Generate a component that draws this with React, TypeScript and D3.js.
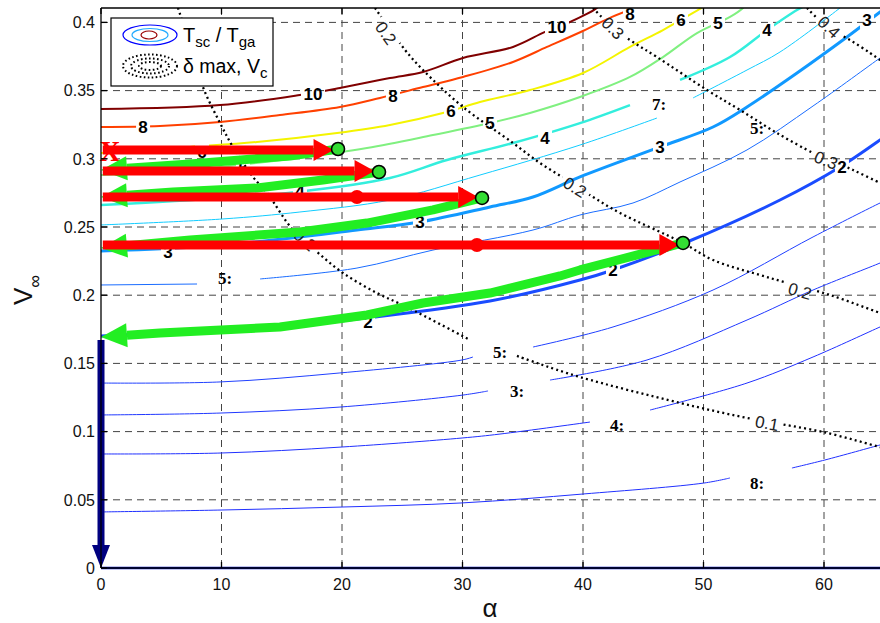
import React from 'react';
import * as d3 from 'd3';

type P = [number, number];

const xTickValues = [0, 10, 20, 30, 40, 50, 60];
const yTickValues = [0, 0.05, 0.1, 0.15, 0.2, 0.25, 0.3, 0.35, 0.4];
const yTickLabels = ['0', '0.05', '0.1', '0.15', '0.2', '0.25', '0.3', '0.35', '0.4'];

// T_sc / T_ga contour lines (alpha, V)
const c10: P[][] = [[[0, 0.3365], [9.88, 0.3394], [16.51, 0.3468], [19.83, 0.3519], [23.98, 0.3592], [26.72, 0.3636], [30.04, 0.3739], [34.19, 0.382], [36.85, 0.393], [38.92, 0.4003], [41.16, 0.4106], [41.6, 0.415]]];
const c8: P[][] = [[[0, 0.3233], [4.9, 0.324], [9.88, 0.327], [14.85, 0.3321], [19.83, 0.338], [23.15, 0.3446], [26.72, 0.3526], [30.04, 0.36], [34.19, 0.371], [37.01, 0.382], [39.99, 0.3937], [42.41, 0.404], [44.73, 0.412]]];
const c6: P[][] = [[[0, 0.3043], [7.39, 0.3087], [12.95, 0.3123], [19.59, 0.3189], [23.98, 0.3248], [28.71, 0.3343], [31.45, 0.3416], [35.6, 0.3504], [40.0, 0.3629], [43.9, 0.382], [46.64, 0.3944], [49.13, 0.4069], [49.96, 0.4113]]];
const c5: P[][] = [[[0, 0.2881], [7.39, 0.2918], [15.68, 0.2999], [22.07, 0.3079], [27.55, 0.3174], [32.28, 0.3262], [35.6, 0.3336], [39.75, 0.3453], [43.9, 0.36], [46.64, 0.3746], [49.46, 0.3922], [52.2, 0.404], [53.28, 0.4106], [53.6, 0.414]]];
const c4: P[][] = [
  [[0, 0.2661], [10.12, 0.2713], [16.27, 0.2757], [23.98, 0.2859], [28.71, 0.2991], [34.19, 0.3116], [39.75, 0.3262], [43.9, 0.3394]],
  [[48.05, 0.3578], [52.2, 0.3746], [55.27, 0.3944], [57.76, 0.4091], [58.59, 0.4128]],
];
const c35: P[][] = [
  [[0, 0.2515], [10.12, 0.2559], [16.51, 0.261], [23.98, 0.2698], [31.45, 0.2881], [39.75, 0.3101], [46.14, 0.3299]],
  [[49.13, 0.3446], [53.61, 0.3651], [56.35, 0.3783], [61.33, 0.4106], [61.8, 0.414]],
];
const c3: P[][] = [[[0, 0.2324], [10.12, 0.2368], [21.24, 0.2478], [26.47, 0.2537], [32.28, 0.2647], [35.85, 0.272], [39.75, 0.2867], [46.39, 0.3087], [50.79, 0.3233], [53.61, 0.338], [57.76, 0.3629], [61.91, 0.3893], [64.65, 0.4076], [65, 0.41]]];
const c25: P[][] = [
  [[0, 0.2075], [7.97, 0.2082]],
  [[13.2, 0.2119], [21.24, 0.2199], [27.55, 0.2331], [35.85, 0.2478], [39.75, 0.2588], [44.15, 0.2676], [48.05, 0.283], [53.61, 0.3065], [59.09, 0.3387], [64.65, 0.3739], [65, 0.376]],
];
const c2: P[][] = [[[0, 0.1701], [14.85, 0.1767], [22.07, 0.1833], [32.28, 0.1957], [39.75, 0.2111], [42.49, 0.2185], [48.63, 0.239], [56.35, 0.2698], [61.33, 0.294], [64.65, 0.3138], [65, 0.316]]];
const cA: P[][] = [
  [[0, 0.1356], [9.88, 0.1364], [19.83, 0.143], [29.96, 0.1525], [30.87, 0.1547]],
  [[35.85, 0.162], [42.49, 0.1767], [50.79, 0.2038], [59.09, 0.2427], [64.65, 0.2676], [65, 0.269]],
];
const cB: P[][] = [
  [[0, 0.1122], [9.88, 0.1136], [19.83, 0.118], [30.04, 0.1268], [32.12, 0.1298]],
  [[37.26, 0.1378], [45.31, 0.1525], [53.61, 0.1818], [59.09, 0.2038], [64.65, 0.2236], [65, 0.225]],
];
const cC: P[][] = [
  [[0, 0.0836], [9.96, 0.0843], [20.0, 0.0887], [29.96, 0.0953], [33.11, 0.0982], [40.58, 0.107]],
  [[45.56, 0.1158], [53.61, 0.1356], [59.09, 0.1547], [64.65, 0.1767], [65, 0.178]],
];
const cD: P[][] = [
  [[0, 0.0411], [9.96, 0.0425], [20.0, 0.0447], [29.96, 0.0477], [40.08, 0.0543], [50.04, 0.0623], [52.2, 0.066]],
  [[57.34, 0.0733], [60.08, 0.0792], [64.65, 0.0902], [65, 0.091]],
];
const c0: P[][] = [[[0, 0], [65, 0]]];

const contourKeys = ['c0', 'cD', 'cC', 'cB', 'cA', 'c2', 'c25', 'c3', 'c35', 'c4', 'c5', 'c6', 'c8', 'c10'];
const contourData: Record<string, P[][]> = { c0, cD, cC, cB, cA, c2, c25, c3, c35, c4, c5, c6, c8, c10 };
const contourStyle: Record<string, { color: string; w: number }> = {
  c10: { color: '#800000', w: 2 },
  c8: { color: '#ff4000', w: 2 },
  c6: { color: '#f4f400', w: 2 },
  c5: { color: '#80f080', w: 2 },
  c4: { color: '#33eedd', w: 2.5 },
  c35: { color: '#11ccff', w: 1 },
  c3: { color: '#1199ff', w: 3 },
  c25: { color: '#1a6cff', w: 1 },
  c2: { color: '#1a4cff', w: 3 },
  cA: { color: '#2040ff', w: 1 },
  cB: { color: '#2038ff', w: 1 },
  cC: { color: '#2030ff', w: 1 },
  cD: { color: '#2030ff', w: 1 },
  c0: { color: '#0010c8', w: 2.5 },
};

// inline contour labels
const labelText = ['10', '10', '8', '8', '8', '6', '6', '6', '5', '5', '5', '4', '4', '4', '3', '3', '3', '3', '2', '2', '2'];
const labelA = [17.59, 37.84, 3.49, 24.23, 43.9, 8.38, 29.05, 48.13, 11.78, 32.28, 51.2, 16.51, 36.85, 55.27, 5.56, 26.47, 46.39, 63.57, 22.16, 42.49, 61.49];
const labelV = [0.3475, 0.3966, 0.3233, 0.346, 0.4062, 0.305, 0.335, 0.4018, 0.2933, 0.3262, 0.3996, 0.2764, 0.3152, 0.3944, 0.2317, 0.2537, 0.3087, 0.4018, 0.1804, 0.2185, 0.294];

// stray serif labels
const serifText = ['5:', '5:', '3:', '4:', '8:', '7:', '5:'];
const serifA = [10.29, 33.11, 34.52, 42.82, 54.44, 46.31, 54.44];
const serifV = [0.2126, 0.1584, 0.1298, 0.1048, 0.0623, 0.3402, 0.3226];

// delta max, Vc dotted contours
const d1: P[][] = [
  [[6.39, 0.4106], [7.39, 0.3834], [8.46, 0.3526], [9.88, 0.3262], [10.95, 0.3087], [12.61, 0.2867], [13.78, 0.2749], [15.93, 0.2478], [17.93, 0.2317], [20.08, 0.2163], [22.9, 0.2016], [25.39, 0.1913], [30.62, 0.1672]],
  [[34.52, 0.1555], [36.18, 0.1503], [39.75, 0.14], [48.05, 0.121], [53.61, 0.11], [59.92, 0.0997], [64.65, 0.0887], [65, 0.088]],
];
const d2: P[][] = [[[22.74, 0.4106], [25.23, 0.3798], [26.72, 0.3651], [30.04, 0.338], [34.19, 0.3116], [36.43, 0.2969], [38.67, 0.2845], [40.83, 0.272], [43.07, 0.2603], [48.3, 0.2383], [50.79, 0.2258], [55.27, 0.2133], [60.5, 0.2001], [64.65, 0.187], [65, 0.186]]];
const d3c: P[][] = [[[40.83, 0.4106], [42.49, 0.3959], [44.15, 0.3856], [46.14, 0.3746], [50.29, 0.3504], [53.03, 0.3358], [56.1, 0.3189], [59.09, 0.3043], [59.92, 0.3013], [62.41, 0.2918], [64.65, 0.2823], [65, 0.281]]];
const d4: P[][] = [[[58.59, 0.4106], [60.25, 0.3966], [62.16, 0.3871], [63.82, 0.3776], [64.65, 0.3724], [65, 0.37]]];
const dottedCurves = [d1, d2, d3c, d4];

const dotLabelText = ['0.2', '0.3', '0.4', '0.2', '0.3', '0.2', '0.1', '0.2'];
const dotLabelA = [23.65, 42.49, 60.41, 39.34, 60.17, 58.01, 55.27, 16.93];
const dotLabelV = [0.3922, 0.3959, 0.3966, 0.2793, 0.2991, 0.2031, 0.1063, 0.2405];
const dotLabelCurve = [1, 2, 3, 1, 2, 1, 0, 0];

// red arrows (rightwards)
const redV = [0.3065, 0.2911, 0.272, 0.2368];
const redTipA = [19.3, 22.7, 31.3, 48.0];
const redDotA = [NaN, NaN, 21.24, 31.2];

// green arrows (leftwards, along contours)
const g1: P[] = [[19.67, 0.3072], [15.68, 0.3021], [7.39, 0.2962], [0, 0.2918]];
const g2: P[] = [[23.07, 0.2903], [18.42, 0.2845], [12.95, 0.2786], [5.98, 0.2757], [0, 0.272]];
const g3: P[] = [[31.62, 0.2713], [27.55, 0.2625], [22.07, 0.2529], [16.51, 0.2463], [7.39, 0.2405], [0, 0.2346]];
const g4: P[] = [[48.3, 0.2383], [39.75, 0.2185], [38.09, 0.2141], [32.28, 0.2016], [26.72, 0.1943], [22.07, 0.1855], [14.85, 0.1767], [4.9, 0.1723], [0, 0.1694]];
const greenPaths = [g1, g2, g3, g4];

// navy vertical arrow
const navyFromV = 0.1672;
const navyToV = 0;

const SANS = "'Liberation Sans', Arial, Helvetica, sans-serif";
const SERIF = "'Liberation Serif', 'Times New Roman', serif";

export default function App() {
  const x = d3.scaleLinear().domain([0, 65]).range([101, 884.25]);
  const y = d3.scaleLinear().domain([0, 0.41]).range([568, 8.76]);
  const L = 101, R = 880, T = 8, B = 568;

  const line = d3.line<P>().x((d) => x(d[0])).y((d) => y(d[1])).curve(d3.curveCatmullRom.alpha(0.5));
  const straight = d3.line<P>().x((d) => d[0]).y((d) => d[1]);

  const angleAt = (curve: P[][], a: number) => {
    for (const seg of curve) {
      for (let i = 0; i < seg.length - 1; i++) {
        const p = seg[i], q = seg[i + 1];
        if (a >= Math.min(p[0], q[0]) - 0.8 && a <= Math.max(p[0], q[0]) + 0.8) {
          const dx = x(q[0]) - x(p[0]);
          const dy = y(q[1]) - y(p[1]);
          return (Math.atan2(dy, dx) * 180) / Math.PI;
        }
      }
    }
    return 0;
  };

  const arrowParts = (ptsData: P[], headLen: number, half: number) => {
    const pts: P[] = ptsData.map((d) => [x(d[0]), y(d[1])]);
    const tip = pts[pts.length - 1];
    const prev = pts[pts.length - 2];
    let dx = tip[0] - prev[0], dy = tip[1] - prev[1];
    const n = Math.hypot(dx, dy) || 1;
    dx /= n; dy /= n;
    const base: P = [tip[0] - dx * headLen, tip[1] - dy * headLen];
    const body = pts.slice(0, pts.length - 1).concat([base]);
    const px = -dy, py = dx;
    const head = `M${tip[0]},${tip[1]}L${base[0] + px * half},${base[1] + py * half}L${base[0] - px * half},${base[1] - py * half}Z`;
    return { body: straight(body) as string, head };
  };

  return (
    <svg width={880} height={623} style={{ position: 'absolute', left: 0, top: 0, background: '#fff' }} fontFamily={SANS}>
      <defs>
        <clipPath id="plotClip">
          <rect x={L} y={T} width={R - L} height={B - T + 2} />
        </clipPath>
        <mask id="lblMask" maskUnits="userSpaceOnUse" x={0} y={0} width={880} height={623}>
          <rect x={0} y={0} width={880} height={623} fill="#fff" />
          {labelText.map((t, i) => (
            <rect key={i} x={x(labelA[i]) - (t.length * 10 + 4) / 2} y={y(labelV[i]) - 9} width={t.length * 10 + 4} height={18} fill="#000" />
          ))}
        </mask>
        <mask id="dotMask" maskUnits="userSpaceOnUse" x={0} y={0} width={880} height={623}>
          <rect x={0} y={0} width={880} height={623} fill="#fff" />
          {dotLabelText.map((t, i) => {
            const ang = angleAt(dottedCurves[dotLabelCurve[i]], dotLabelA[i]);
            return (
              <rect key={i} x={-16} y={-7} width={32} height={14} fill="#000"
                transform={`translate(${x(dotLabelA[i])},${y(dotLabelV[i])}) rotate(${ang})`} />
            );
          })}
        </mask>
      </defs>

      {/* grid */}
      <g stroke="#444" strokeWidth={1} strokeDasharray="7 5">
        {xTickValues.filter((v) => v > 0).map((v) => (
          <line key={'gx' + v} x1={x(v)} x2={x(v)} y1={T} y2={B} />
        ))}
        {yTickValues.filter((v) => v > 0).map((v) => (
          <line key={'gy' + v} x1={L} x2={R} y1={y(v)} y2={y(v)} />
        ))}
      </g>

      <g clipPath="url(#plotClip)">
        {/* contour lines */}
        <g mask="url(#lblMask)" fill="none" strokeLinejoin="round">
          {contourKeys.map((k) =>
            contourData[k].map((seg, j) => (
              <path key={k + j} d={line(seg) as string} stroke={contourStyle[k].color} strokeWidth={contourStyle[k].w} />
            ))
          )}
        </g>
        {/* dotted lines */}
        <g mask="url(#dotMask)" fill="none" stroke="#000" strokeWidth={2.3} strokeDasharray="2 3.2">
          {dottedCurves.map((c, i) =>
            c.map((seg, j) => <path key={'d' + i + '-' + j} d={line(seg) as string} />)
          )}
        </g>
      </g>

      {/* contour labels */}
      <g fontWeight="bold" fontSize={17} textAnchor="middle" fill="#000">
        {labelText.map((t, i) => (
          <text key={i} x={x(labelA[i])} y={y(labelV[i])} dy="0.36em">{t}</text>
        ))}
      </g>
      <g fontFamily={SERIF} fontWeight="bold" fontSize={17} textAnchor="middle" fill="#000">
        {serifText.map((t, i) => (
          <text key={i} x={x(serifA[i])} y={y(serifV[i])} dy="0.36em">{t}</text>
        ))}
      </g>
      <g fontSize={17} textAnchor="middle" fill="#222">
        {dotLabelText.map((t, i) => {
          const ang = angleAt(dottedCurves[dotLabelCurve[i]], dotLabelA[i]);
          return (
            <text key={i} transform={`translate(${x(dotLabelA[i])},${y(dotLabelV[i])}) rotate(${ang})`} dy="0.36em">{t}</text>
          );
        })}
      </g>

      {/* red X mark */}
      <text x={110} y={161} fontFamily={SERIF} fontWeight="bold" fontSize={29} fill="#ff0000" textAnchor="middle">X</text>

      {/* green arrows */}
      {greenPaths.map((g, i) => {
        const a = arrowParts(g, 26, 12);
        return (
          <g key={'g' + i}>
            <path d={a.body} fill="none" stroke="#22ee22" strokeWidth={9} strokeLinejoin="round" />
            <path d={a.head} fill="#22ee22" />
          </g>
        );
      })}

      {/* red arrows */}
      {redV.map((v, i) => {
        const a = arrowParts([[0.15, v], [redTipA[i], v]], 20, 11);
        return (
          <g key={'r' + i}>
            <path d={a.body} fill="none" stroke="#ff0000" strokeWidth={9} />
            <path d={a.head} fill="#ff0000" />
            {!isNaN(redDotA[i]) && <circle cx={x(redDotA[i])} cy={y(v)} r={7} fill="#ff0000" />}
          </g>
        );
      })}

      {/* green circles */}
      {greenPaths.map((g, i) => (
        <circle key={'c' + i} cx={x(g[0][0])} cy={y(g[0][1])} r={6.5} fill="#33dd33" stroke="#000" strokeWidth={1.6} />
      ))}

      {/* navy arrow */}
      {(() => {
        const a = arrowParts([[0, navyFromV], [0, navyToV]], 23, 9);
        return (
          <g>
            <path d={a.body} fill="none" stroke="#000080" strokeWidth={7} />
            <path d={a.head} fill="#000080" />
          </g>
        );
      })()}

      {/* axes */}
      <g stroke="#000" strokeWidth={1.3} fill="none">
        <line x1={L} x2={L} y1={T} y2={B} />
        <line x1={L} x2={R} y1={B} y2={B} />
        <line x1={L} x2={R} y1={T} y2={T} />
        {yTickValues.map((v) => (
          <line key={'ty' + v} x1={L} x2={L + 6} y1={y(v)} y2={y(v)} />
        ))}
        {xTickValues.map((v) => (
          <g key={'tx' + v}>
            <line x1={x(v)} x2={x(v)} y1={B} y2={B - 6} />
            <line x1={x(v)} x2={x(v)} y1={T} y2={T + 6} />
          </g>
        ))}
      </g>
      <g fontSize={16} fill="#111">
        {yTickValues.map((v, i) => (
          <text key={'ly' + v} x={95} y={y(v)} dy="0.36em" textAnchor="end">{yTickLabels[i]}</text>
        ))}
        {xTickValues.map((v) => (
          <text key={'lx' + v} x={x(v)} y={590} textAnchor="middle">{v}</text>
        ))}
      </g>
      <text x={490} y={617} fontSize={26} textAnchor="middle" fill="#111">α</text>
      <text transform="translate(32,305) rotate(-90)" fontSize={26} fill="#111">
        V<tspan fontSize={18} dy={9}>∞</tspan>
      </text>

      {/* legend */}
      <g>
        <rect x={111} y={18} width={162} height={68} fill="#fff" stroke="#000" strokeWidth={1.2} />
        <ellipse cx={150} cy={35} rx={27} ry={10} fill="none" stroke="#0000ff" strokeWidth={1.2} />
        <ellipse cx={150} cy={35} rx={18} ry={6.5} fill="none" stroke="#22aaff" strokeWidth={1.2} />
        <ellipse cx={149} cy={35} rx={8} ry={4} fill="none" stroke="#990000" strokeWidth={1.2} />
        <g fill="none" stroke="#000" strokeWidth={2} strokeDasharray="1.6 2.4">
          <ellipse cx={150} cy={66} rx={27} ry={11.5} />
          <ellipse cx={150} cy={66} rx={19} ry={7.5} />
          <ellipse cx={150} cy={66} rx={11} ry={4} />
        </g>
        <text x={183} y={42} fontSize={20} fill="#000">
          T<tspan fontSize={15} dy={5}>sc</tspan>
          <tspan dy={-5}> / T</tspan>
          <tspan fontSize={15} dy={5}>ga</tspan>
        </text>
        <text x={183} y={73} fontSize={19.5} fill="#000">
          δ max, V<tspan fontSize={15} dy={5}>c</tspan>
        </text>
      </g>
    </svg>
  );
}
